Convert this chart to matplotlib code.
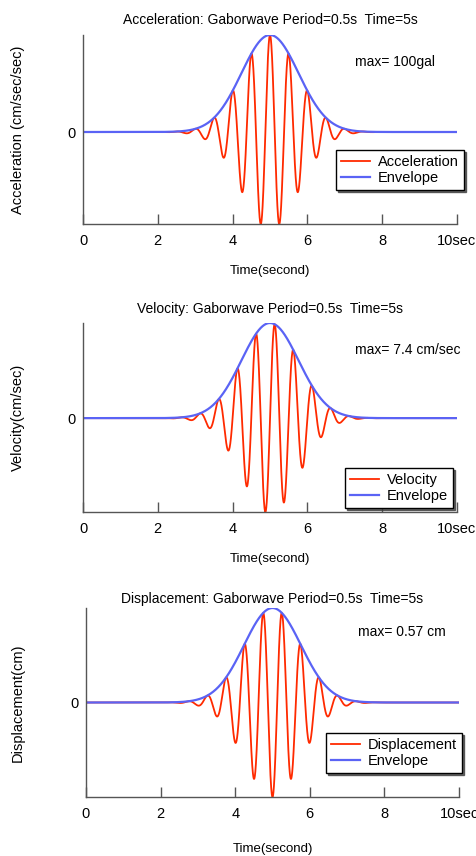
import numpy as np
import matplotlib
matplotlib.use("Agg")
import matplotlib.pyplot as plt

plt.rcParams['font.family'] = ['Liberation Sans', 'DejaVu Sans']

# values
period = 0.5          # s (Period=0.5s)
t_center = 5.0        # s (Time=5s)
env_width = 1.08      # s, gaussian width of the envelope (estimated)
quantities = ["Acceleration", "Velocity", "Displacement"]
ylabels = ["Acceleration (cm/sec/sec)", "Velocity(cm/sec)", "Displacement(cm)"]
max_texts = ["max= 100gal", "max= 7.4 cm/sec", "max= 0.57 cm"]
env_peaks = [100.0, 7.55, 0.603]   # envelope peak height of each panel
xticks = [0, 2, 4, 6, 8, 10]
xticklabels = ["0", "2", "4", "6", "8", "10sec"]

t = np.linspace(0, 10, 4001)
w = 2 * np.pi / period
env = np.exp(-((t - t_center) / env_width) ** 2)
shapes = [np.cos(w * (t - t_center)),
          np.sin(w * (t - t_center)),
          -np.cos(w * (t - t_center))]

W, H = 476, 856
fig = plt.figure(figsize=(W / 100, H / 100), dpi=100)

# axes boxes in pixels: left, right, top, bottom
boxes = [(83, 457, 35, 224), (83, 457, 323, 512), (86, 459, 608, 797)]
title_y = [20, 309, 599]
xlabel_y = [271, 559, 849]
max_pos = [(355, 62), (355, 350), (358, 632)]
leg_pos = [(336, 150), (345, 468), (326, 733)]

red = '#ff2a00'
blue = '#5a63f5'
grey = '#555555'

for i in range(3):
    l, r, tp, b = boxes[i]
    ax = fig.add_axes([l / W, 1 - b / H, (r - l) / W, (b - tp) / H])
    wave = env_peaks[i] * env * shapes[i]
    envelope = env_peaks[i] * env
    ax.plot(t, wave, color=red, lw=1.3, label=quantities[i])
    ax.plot(t, envelope, color=blue, lw=1.6, label="Envelope")
    ax.set_xlim(0, 10)
    ax.set_ylim(wave.min(), envelope.max())
    for s in ['top', 'right']:
        ax.spines[s].set_visible(False)
    for s in ['left', 'bottom']:
        ax.spines[s].set_color(grey)
        ax.spines[s].set_linewidth(1.0)
    ax.set_xticks(xticks)
    ax.set_xticklabels(xticklabels)
    ax.set_yticks([0])
    ax.set_yticklabels(["0"])
    ax.tick_params(axis='x', direction='in', length=7, width=1, color=grey,
                   labelsize=10.5, pad=7)
    ax.tick_params(axis='y', length=0, labelsize=10.5, pad=5)
    ax.patch.set_alpha(0)

    fig.text((l + r) / 2 / W, 1 - title_y[i] / H,
             quantities[i] + ": Gaborwave Period=0.5s  Time=5s",
             ha='center', va='center', fontsize=10)
    fig.text((l + r) / 2 / W, 1 - xlabel_y[i] / H, "Time(second)",
             ha='center', va='center', fontsize=9.5)
    fig.text(18 / W, 1 - (tp + b) / 2 / H, ylabels[i], rotation=90,
             ha='center', va='center', fontsize=10.5)
    fig.text(max_pos[i][0] / W, 1 - max_pos[i][1] / H, max_texts[i],
             ha='left', va='center', fontsize=10)
    leg = ax.legend(loc='upper left',
                    bbox_to_anchor=(leg_pos[i][0] / W, 1 - leg_pos[i][1] / H),
                    bbox_transform=fig.transFigure, borderaxespad=0,
                    fancybox=False,
                    shadow={'ox': 1.5, 'oy': -1.5, 'color': '0.25', 'alpha': 0.8},
                    framealpha=1, fontsize=10.5,
                    handlelength=2.0, handletextpad=0.5, borderpad=0.35,
                    labelspacing=0.15)
    leg.get_frame().set_edgecolor('black')
    leg.get_frame().set_linewidth(1.0)

fig.savefig("out.png", dpi=100)
